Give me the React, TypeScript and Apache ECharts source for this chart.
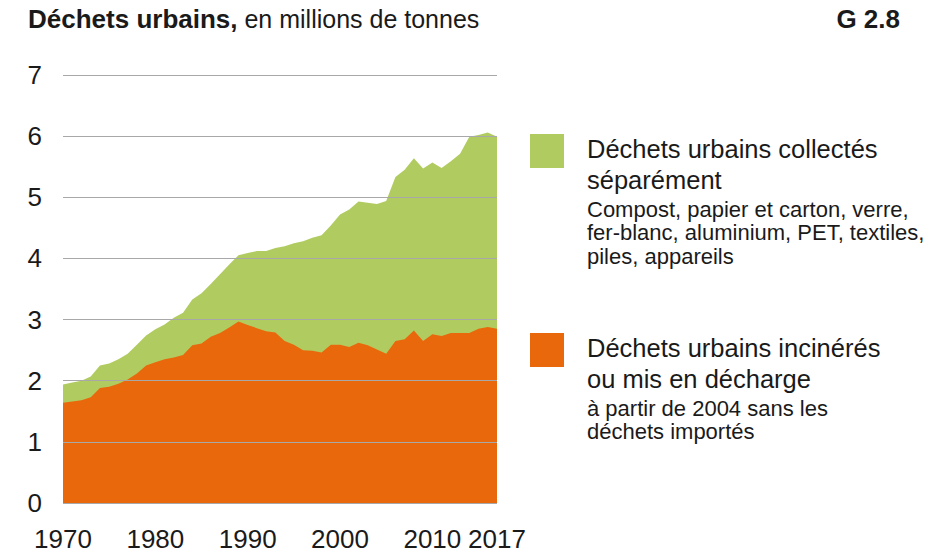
import React, { useEffect, useRef } from "react";
import * as echarts from "echarts";

const years = [
  1970, 1971, 1972, 1973, 1974, 1975, 1976, 1977, 1978, 1979,
  1980, 1981, 1982, 1983, 1984, 1985, 1986, 1987, 1988, 1989,
  1990, 1991, 1992, 1993, 1994, 1995, 1996, 1997, 1998, 1999,
  2000, 2001, 2002, 2003, 2004, 2005, 2006, 2007, 2008, 2009,
  2010, 2011, 2012, 2013, 2014, 2015, 2016, 2017,
];

// Top of the green area: total urban waste (incinerated + separately collected)
const totalWaste = [
  1.94, 1.97, 2.0, 2.07, 2.25, 2.28, 2.35, 2.44, 2.59, 2.74,
  2.84, 2.92, 3.03, 3.11, 3.33, 3.43, 3.58, 3.74, 3.9, 4.05,
  4.09, 4.12, 4.12, 4.17, 4.2, 4.25, 4.28, 4.34, 4.38, 4.54,
  4.72, 4.8, 4.93, 4.91, 4.89, 4.94, 5.33, 5.45, 5.64, 5.47,
  5.57, 5.48, 5.59, 5.71, 5.99, 6.02, 6.06, 5.99,
];

// Orange area: incinerated or landfilled urban waste
const incinerated = [
  1.64, 1.66, 1.68, 1.73, 1.88, 1.9, 1.95, 2.02, 2.12, 2.25,
  2.3, 2.35, 2.38, 2.42, 2.58, 2.61, 2.72, 2.78, 2.87, 2.97,
  2.91, 2.86, 2.81, 2.79, 2.65, 2.59, 2.5, 2.49, 2.46, 2.59,
  2.59, 2.55, 2.62, 2.58, 2.51, 2.44, 2.65, 2.68, 2.82, 2.65,
  2.76, 2.73, 2.78, 2.78, 2.78, 2.85, 2.88, 2.85,
];

const xTickLabels = [1970, 1980, 1990, 2000, 2010, 2017];

const titleBold = "Déchets urbains,";
const titleRest = " en millions de tonnes";
const chartCode = "G 2.8";

const legendGreenTitle = ["Déchets urbains collectés", "séparément"];
const legendGreenNote = [
  "Compost, papier et carton, verre,",
  "fer-blanc, aluminium, PET, textiles,",
  "piles, appareils",
];
const legendOrangeTitle = ["Déchets urbains incinérés", "ou mis en décharge"];
const legendOrangeNote = ["à partir de 2004 sans les", "déchets importés"];

const GREEN = "#b0cc60";
const ORANGE = "#e9680c";
const FONT = "'Liberation Sans', Arial, sans-serif";
const TEXT = "#1a1a1a";

function legendBlock(top: number, color: string, titles: string[], notes: string[]) {
  const els: any[] = [
    {
      type: "rect",
      left: 530,
      top,
      shape: { x: 0, y: 0, width: 34, height: 34 },
      style: { fill: color },
    },
  ];
  titles.forEach((t, i) => {
    els.push({
      type: "text",
      x: 587,
      y: top + 15 + i * 30.5,
      style: {
        text: t,
        fill: TEXT,
        font: `25.5px ${FONT}`,
        textAlign: "left",
        textVerticalAlign: "middle",
      },
    });
  });
  notes.forEach((t, i) => {
    els.push({
      type: "text",
      x: 587,
      y: top + 75 + i * 23.7,
      style: {
        text: t,
        fill: TEXT,
        font: `22px ${FONT}`,
        textAlign: "left",
        textVerticalAlign: "middle",
      },
    });
  });
  return els;
}

export default function App() {
  const ref = useRef<HTMLDivElement>(null);

  useEffect(() => {
    if (!ref.current) return;
    const chart = echarts.init(ref.current, null, { renderer: "svg" });
    chart.setOption({
      animation: false,
      backgroundColor: "#ffffff",
      grid: { left: 63, right: 435, top: 75, bottom: 51, containLabel: false },
      xAxis: {
        type: "value",
        min: 1970,
        max: 2017,
        interval: 10,
        axisLine: { show: false },
        axisTick: { show: false },
        splitLine: { show: false },
        axisLabel: {
          show: true,
          color: TEXT,
          fontSize: 26,
          fontFamily: FONT,
          margin: 23,
          showMaxLabel: true,
          showMinLabel: true,
          formatter: (v: number) => (xTickLabels.includes(v) ? String(v) : ""),
        },
      },
      yAxis: {
        type: "value",
        min: 0,
        max: 7,
        interval: 1,
        z: 3,
        axisLine: { show: false },
        axisTick: { show: false },
        splitLine: { show: true, lineStyle: { color: "#a8a8a8", width: 1.2 } },
        axisLabel: {
          color: TEXT,
          fontSize: 26,
          fontFamily: FONT,
          margin: 21,
        },
      },
      series: [
        {
          name: "Déchets urbains collectés séparément",
          type: "line",
          data: years.map((y, i) => [y, totalWaste[i]]),
          symbol: "none",
          lineStyle: { width: 0 },
          itemStyle: { color: GREEN },
          areaStyle: { color: GREEN, opacity: 1 },
          z: 1,
        },
        {
          name: "Déchets urbains incinérés ou mis en décharge",
          type: "line",
          data: years.map((y, i) => [y, incinerated[i]]),
          symbol: "none",
          lineStyle: { width: 0 },
          itemStyle: { color: ORANGE },
          areaStyle: { color: ORANGE, opacity: 1 },
          z: 2,
        },
      ],
      graphic: [
        {
          type: "text",
          x: 28,
          y: 18.5,
          style: {
            text: `{b|${titleBold}}{r|${titleRest}}`,
            rich: {
              b: { font: `bold 26px ${FONT}`, fill: TEXT },
              r: { font: `25px ${FONT}`, fill: TEXT },
            },
            textAlign: "left",
            textVerticalAlign: "middle",
          },
        },
        {
          type: "text",
          x: 900,
          y: 18.5,
          style: {
            text: chartCode,
            fill: TEXT,
            font: `bold 26px ${FONT}`,
            textAlign: "right",
            textVerticalAlign: "middle",
          },
        },
        ...legendBlock(134, GREEN, legendGreenTitle, legendGreenNote),
        ...legendBlock(333, ORANGE, legendOrangeTitle, legendOrangeNote),
      ],
    });
    return () => chart.dispose();
  }, []);

  return (
    <div
      ref={ref}
      style={{ position: "absolute", left: 0, top: 0, width: 932, height: 554 }}
    />
  );
}
